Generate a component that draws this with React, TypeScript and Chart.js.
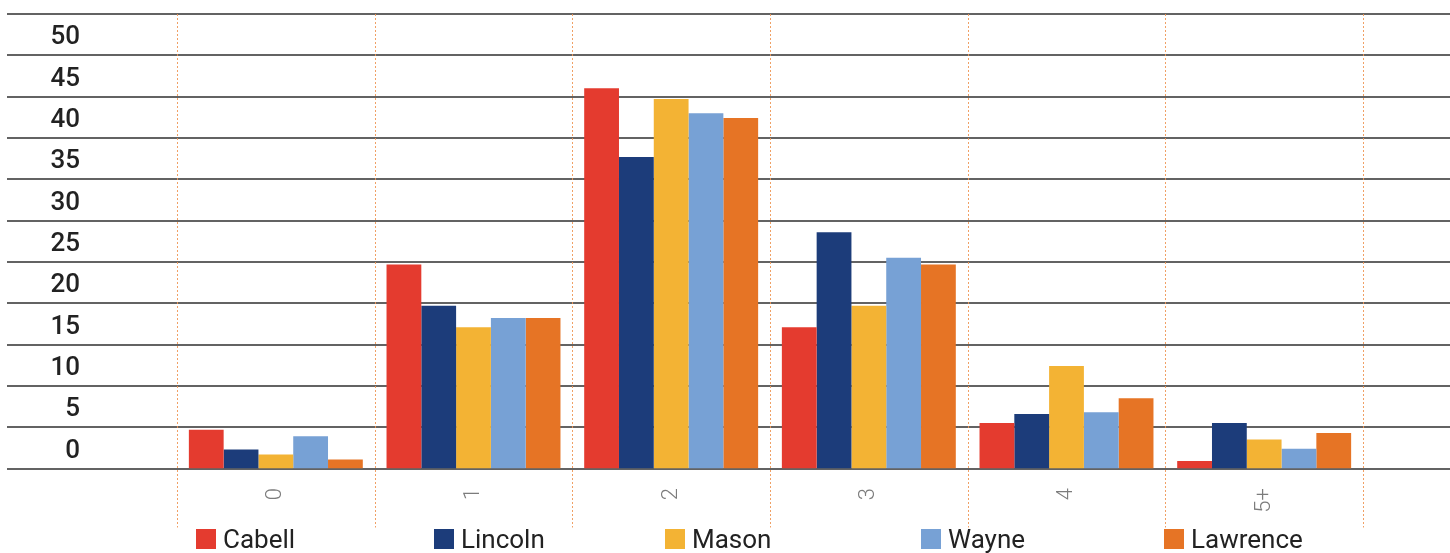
import { useEffect, useRef } from "react";
import { Chart, registerables } from "chart.js";

Chart.register(...registerables);

// Number of children per household, share (%) by county
const categories = ["0", "1", "2", "3", "4", "5+"];
const seriesNames = ["Cabell", "Lincoln", "Mason", "Wayne", "Lawrence"];
const cabell = [4.7, 24.7, 46.0, 17.1, 5.5, 0.9];
const lincoln = [2.3, 19.7, 37.7, 28.6, 6.6, 5.5];
const mason = [1.7, 17.1, 44.7, 19.7, 12.4, 3.5];
const wayne = [3.9, 18.2, 43.0, 25.5, 6.8, 2.4];
const lawrence = [1.1, 18.2, 42.4, 24.7, 8.5, 4.3];
const yMax = 55;
const yStep = 5;

const seriesValues = [cabell, lincoln, mason, wayne, lawrence];
const seriesColors = ["#E43B2F", "#1C3C7A", "#F3B334", "#77A1D5", "#E67425"];

// legend item left edges (px) along the bottom strip
const legendX = [196, 434, 665, 921, 1164];

const frame = {
  id: "frame",
  beforeDatasetsDraw(chart: any) {
    const { ctx, chartArea, scales, width } = chart;
    const x = scales.x;
    const y = scales.y;
    ctx.save();
    // horizontal rules, running across the full width
    ctx.strokeStyle = "#636363";
    ctx.lineWidth = 2;
    y.ticks.forEach((t: any) => {
      const py = Math.round(y.getPixelForValue(t.value));
      ctx.beginPath();
      ctx.moveTo(7, py);
      ctx.lineTo(width, py);
      ctx.stroke();
    });
    // dotted separators between categories, reaching into the label band
    ctx.strokeStyle = "rgba(238,150,84,0.9)";
    ctx.lineWidth = 1;
    ctx.setLineDash([2, 2]);
    for (let i = 0; i <= categories.length; i++) {
      const px = Math.round(x.getPixelForValue(i - 0.5)) + 0.5;
      ctx.beginPath();
      ctx.moveTo(px, chartArea.top);
      ctx.lineTo(px, chartArea.bottom + 59);
      ctx.stroke();
    }
    ctx.restore();
  },
  afterDraw(chart: any) {
    const { ctx } = chart;
    ctx.save();
    ctx.font = "400 26px Roboto";
    ctx.textBaseline = "alphabetic";
    ctx.textAlign = "left";
    chart.data.datasets.forEach((ds: any, i: number) => {
      ctx.fillStyle = ds.backgroundColor;
      ctx.fillRect(legendX[i], 529, 20, 20);
      ctx.fillStyle = "#222222";
      ctx.fillText(ds.label, legendX[i] + 27, 548);
    });
    ctx.restore();
  },
};

export default function App() {
  const canvasRef = useRef<HTMLCanvasElement | null>(null);

  useEffect(() => {
    if (!canvasRef.current) return;
    const chart = new Chart(canvasRef.current, {
      type: "bar",
      data: {
        labels: categories,
        datasets: seriesNames.map((name, i) => ({
          label: name,
          data: seriesValues[i],
          backgroundColor: seriesColors[i],
          borderWidth: 0,
          categoryPercentage: 0.88,
          barPercentage: 1.0,
        })),
      },
      options: {
        responsive: true,
        maintainAspectRatio: false,
        animation: false,
        layout: { padding: { top: 14, right: 87, left: 0, bottom: 0 } },
        plugins: {
          legend: { display: false },
          tooltip: { enabled: false },
        },
        scales: {
          x: {
            grid: { display: false, drawTicks: false },
            border: { display: false },
            ticks: {
              minRotation: 90,
              maxRotation: 90,
              autoSkip: false,
              padding: 19.5,
              color: "#7c7c7c",
              font: { family: "Roboto", size: 22, weight: "300" },
            },
            afterFit: (s: any) => {
              s.height = 84.5;
              s.paddingLeft = 0;
              s.paddingRight = 0;
            },
          },
          y: {
            min: 0,
            max: yMax,
            grid: { display: false, drawTicks: false },
            border: { display: false },
            ticks: {
              stepSize: yStep,
              padding: 97,
              labelOffset: -17.5,
              color: "#222222",
              font: { family: "Roboto", size: 26, weight: "500" },
              callback: (v: any) => (Number(v) >= yMax ? "" : String(v)),
            },
            afterFit: (s: any) => {
              s.width = 177;
              s.paddingTop = 0;
              s.paddingBottom = 0;
            },
          },
        },
      },
      plugins: [frame],
    });
    return () => chart.destroy();
  }, []);

  return (
    <div
      style={{
        position: "absolute",
        left: 0,
        top: 0,
        width: 1450,
        height: 553,
        background: "#ffffff",
      }}
    >
      <canvas ref={canvasRef} />
    </div>
  );
}
